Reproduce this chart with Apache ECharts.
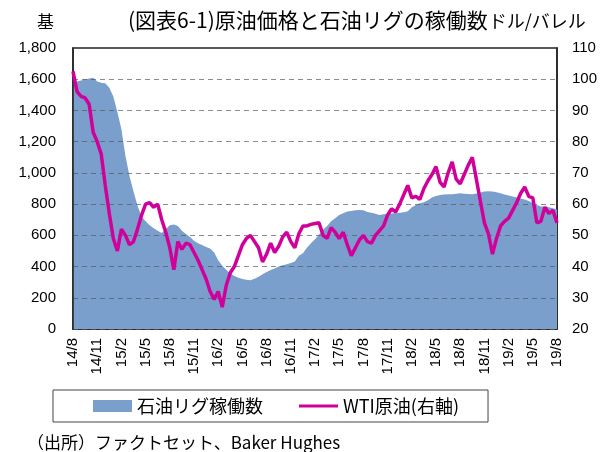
<!DOCTYPE html>
<html>
<head>
<meta charset="utf-8">
<script src="https://cdn.jsdelivr.net/npm/echarts@6/dist/echarts.min.js"></script>
<style>
    html, body { margin: 0; padding: 0; background: #fff; }
    #main { width: 601px; height: 452px; }
</style>
</head>
<body>
<div id="main"></div>
<script>
    // 半月ごと (2014/8 ～ 2019/8)
    var startYear = 2014, startMonth = 8, halfMonths = 121;

    // 石油リグ稼働数 (基)
    var rigCount = [
        1570, 1585, 1592, 1600, 1605, 1610, 1585, 1578, 1575, 1545,
        1490, 1390, 1280, 1110, 980, 880, 790, 720, 690, 665,
        645, 630, 615, 640, 665, 670, 660, 630, 608, 590,
        565, 550, 538, 525, 515, 490, 440, 405, 380, 355,
        340, 328, 320, 316, 312, 322, 335, 350, 365, 378,
        388, 400, 408, 415, 422, 432, 470, 485, 520, 550,
        575, 605, 635, 660, 690, 710, 730, 742, 752, 756,
        760, 763, 760, 750, 744, 738, 730, 735, 738, 740,
        743, 745, 748, 755, 780, 795, 805, 812, 825, 842,
        852, 859, 861, 863, 863, 866, 870, 867, 864, 863,
        868, 875, 880, 882, 881, 876, 870, 862, 855, 848,
        843, 836, 830, 820, 805, 795, 785, 784, 780, 773,
        765
    ];

    // WTI原油 (ドル/バレル)
    var wti = [
        102.5, 96, 94.5, 94, 92, 83, 80, 76, 66, 57,
        49, 45, 52, 50, 47, 48, 52, 56.5, 60, 60.5,
        59, 60, 55, 51, 46, 39, 48, 45.5, 47.5, 47,
        44.5, 42, 39, 36, 32, 29.5, 32, 27, 34, 38,
        40, 43.5, 47, 49, 50, 48, 46, 41.5, 44, 47.5,
        44.5, 46.5, 49.5, 51, 48, 46, 50.5, 53, 53, 53.5,
        53.8, 54, 50, 49, 52.5, 51, 49, 51, 47, 43.5,
        46, 48.5, 50, 48, 47.5, 50, 51.5, 53, 56.5, 58.5,
        57.5, 60, 63, 66, 62, 62.5, 61.5, 65, 67.5, 69.5,
        72, 67, 65.5, 70, 73.5, 68, 66.5, 69.5, 72.5, 75,
        68, 61, 54, 50.5, 44, 49, 53, 54.5, 55.5, 58,
        60.5, 63.5, 65.5, 62.5, 62, 54, 54.5, 59, 57, 58,
        54
    ];

    var categories = [];
    for (var i = 0; i < halfMonths; i++) {
        var m = startMonth - 1 + Math.floor(i / 2);
        var y = startYear + Math.floor(m / 12);
        categories.push(String(y).slice(2) + '/' + (m % 12 + 1) + (i % 2 ? '後' : ''));
    }

    var numFont = 'Liberation Sans, Arial, Noto Sans CJK JP';
    var jpFont = 'Noto Sans CJK JP';

    var mycharts = echarts.init(document.getElementById('main'));
    var option = {
        animation: false,
        title: [
            {
                text: '{a|(図表6-1)原油価格と石油リグの稼働数}{b|ドル/バレル}',
                left: 123,
                top: 5,
                textStyle: {
                    rich: {
                        a: { fontFamily: jpFont, fontSize: 21, fontWeight: 'normal', color: '#000', verticalAlign: 'bottom' },
                        b: { fontFamily: jpFont, fontSize: 18, fontWeight: 'normal', color: '#000', verticalAlign: 'bottom', padding: [0, 0, 1, 1] }
                    }
                }
            },
            {
                text: '基',
                left: 32,
                top: 8,
                textStyle: { fontFamily: jpFont, fontSize: 17, fontWeight: 'normal', color: '#000' }
            },
            {
                text: '（出所）ファクトセット、Baker Hughes',
                left: 22,
                top: 429,
                textStyle: { fontFamily: jpFont, fontSize: 17, fontWeight: 'normal', color: '#000' }
            }
        ],
        legend: {
            left: 53,
            top: 390,
            width: 450,
            padding: [7, 29, 7, 40],
            borderColor: '#444',
            borderWidth: 1,
            itemWidth: 39,
            itemHeight: 12,
            itemGap: 36,
            textStyle: { fontFamily: jpFont, fontSize: 18, color: '#000' },
            data: [
                { name: '石油リグ稼働数', icon: 'rect' },
                { name: 'WTI原油(右軸)', icon: 'path://M0,0 M0,4.5 L40,4.5 L40,7.5 L0,7.5 Z M40,12' }
            ]
        },
        grid: {
            left: 73,
            right: 44,
            top: 48,
            bottom: 123,
            show: true,
            borderColor: '#222',
            borderWidth: 1.5
        },
        xAxis: {
            type: 'category',
            boundaryGap: false,
            data: categories,
            axisLine: { lineStyle: { color: '#222', width: 1.5 } },
            axisTick: { show: false },
            axisLabel: {
                interval: 5,
                rotate: 90,
                margin: 9,
                fontFamily: numFont,
                fontSize: 15,
                color: '#000'
            }
        },
        yAxis: [
            {
                type: 'value',
                min: 0,
                max: 1800,
                interval: 200,
                z: 2,
                axisLine: { show: true, lineStyle: { color: '#222', width: 1.5 } },
                axisTick: { show: false },
                splitLine: { lineStyle: { color: 'rgba(90,90,90,0.7)', type: [5, 4], width: 1 } },
                axisLabel: {
                    margin: 17,
                    fontFamily: numFont,
                    fontSize: 15,
                    color: '#000',
                    formatter: function (v) { return v.toLocaleString('en-US'); }
                }
            },
            {
                type: 'value',
                min: 20,
                max: 110,
                interval: 10,
                axisLine: { show: true, lineStyle: { color: '#222', width: 1.5 } },
                axisTick: { show: false },
                splitLine: { show: false },
                axisLabel: {
                    margin: 15,
                    fontFamily: numFont,
                    fontSize: 15,
                    color: '#000'
                }
            }
        ],
        series: [
            {
                name: '石油リグ稼働数',
                type: 'line',
                yAxisIndex: 0,
                data: rigCount,
                symbol: 'none',
                color: '#7b9fcc',
                lineStyle: { width: 0 },
                areaStyle: { color: '#7b9fcc', opacity: 1 },
                z: 1
            },
            {
                name: 'WTI原油(右軸)',
                type: 'line',
                yAxisIndex: 1,
                data: wti,
                symbol: 'none',
                color: '#d1009b',
                lineStyle: { width: 3.5, color: '#d1009b' },
                z: 3
            }
        ]
    };
    mycharts.setOption(option);
</script>
</body>
</html>
